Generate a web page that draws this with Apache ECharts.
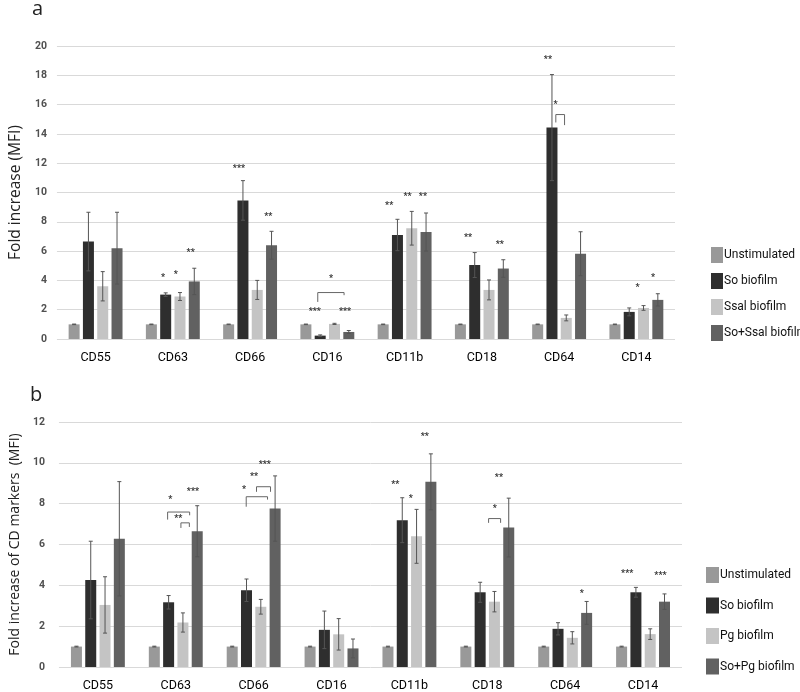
<!DOCTYPE html>
<html>
<head>
<meta charset="utf-8">
<script src="https://cdn.jsdelivr.net/npm/echarts@6/dist/echarts.min.js"></script>
<style>html,body{margin:0;padding:0;background:#fff}#c{width:800px;height:692px}</style>
</head>
<body>
<div id="c"></div>
<script>
// ---------- data ----------
var categories = ['CD55','CD63','CD66','CD16','CD11b','CD18','CD64','CD14'];
var yTicksA = [0,2,4,6,8,10,12,14,16,18,20];
var yTicksB = [0,2,4,6,8,10,12];

var seriesNamesA = ['Unstimulated','So biofilm','Ssal biofilm','So+Ssal biofilm'];
var unstimA  = [1,1,1,1,1,1,1,1];
var soA      = [6.65,3.03,9.46,0.23,7.10,5.05,14.43,1.85];
var ssalA    = [3.60,2.90,3.35,1.03,7.56,3.35,1.44,2.12];
var soSsalA  = [6.20,3.93,6.40,0.48,7.30,4.81,5.82,2.67];
var unstimErrA = [0.02,0.02,0.02,0.02,0.02,0.02,0.02,0.02];
var soErrA     = [2.00,0.12,1.35,0.05,1.07,0.85,3.62,0.27];
var ssalErrA   = [1.00,0.27,0.65,0.04,1.15,0.68,0.20,0.16];
var soSsalErrA = [2.45,0.90,0.95,0.10,1.30,0.60,1.50,0.42];

var seriesNamesB = ['Unstimulated','So biofilm','Pg biofilm','So+Pg biofilm'];
var unstimB = [1,1,1,1,1,1,1,1];
var soB     = [4.26,3.17,3.76,1.82,7.19,3.66,1.87,3.66];
var pgB     = [3.04,2.18,2.95,1.60,6.40,3.20,1.43,1.61];
var soPgB   = [6.28,6.65,7.76,0.91,9.07,6.83,2.65,3.20];
var unstimErrB = [0.02,0.02,0.02,0.02,0.02,0.02,0.02,0.02];
var soErrB     = [1.90,0.33,0.55,0.92,1.10,0.49,0.30,0.24];
var pgErrB     = [1.38,0.47,0.36,0.77,1.32,0.50,0.30,0.26];
var soPgErrB   = [2.80,1.25,1.60,0.46,1.37,1.44,0.56,0.38];

// significance marks: [category index, bar position (0..3), y value]
var starPosA = [[1,0.81,4.15],[1,1.70,4.40],[1,2.75,5.87],
                [2,0.72,11.63],[2,2.77,8.32],
                [3,0.62,1.85],[3,2.74,1.85],[3,1.76,4.10],
                [4,0.42,9.10],[4,1.70,9.68],[4,2.78,9.68],
                [5,0.53,6.92],[5,2.75,6.43],
                [6,0.72,19.04],[6,1.25,15.96],
                [7,1.58,3.51],[7,2.67,4.17]];
var starTextA = ['*','*','**','***','**','***','***','*','**','**','**','**','**','**','*','*','*'];
// brackets: [category, left pos, right pos, top y, left leg y, right leg y]
var bracketA = [[3,0.83,2.67,3.17,2.53,2.99],
                [6,1.27,1.88,15.32,14.78,14.60]];

var starPosB = [[1,1.12,8.18],[1,1.68,7.25],[1,2.70,8.57],
                [2,0.83,8.67],[2,1.53,9.32],[2,2.28,9.93],
                [4,0.51,8.94],[4,1.59,8.24],[4,2.57,11.30],
                [5,2.03,7.76],[5,2.31,9.25],
                [6,2.67,3.61],
                [7,0.39,4.59],[7,2.72,4.47]];
var starTextB = ['*','**','***','*','**','***','**','*','**','*','**','*','***','***'];
var bracketB = [[1,0.93,2.47,7.59,7.22,7.43],
                [1,1.86,2.45,7.06,6.81,6.86],
                [2,0.98,2.47,8.34,7.85,8.20],
                [2,1.70,2.68,8.83,8.58,8.58],
                [5,1.59,2.43,7.27,7.06,7.06]];

// ---------- style ----------
var colors = ['#999999','#2e2e2e','#c4c4c4','#616161'];
var FONT = 'Roboto, "Liberation Sans", sans-serif';
var TITLEFONT = '"Open Sans", "Noto Sans", sans-serif';
var BARW = 11, PITCH = 14.3;

function barSeries(name, data, axisIdx, color) {
  return { type:'bar', name:name, data:data, xAxisIndex:axisIdx, yAxisIndex:axisIdx,
    barWidth:BARW, barGap:((PITCH-BARW)/BARW*100).toFixed(1)+'%', barCategoryGap:'30%',
    itemStyle:{color:color}, z:2, animation:false };
}
function errSeries(vals, errs, pos, axisIdx) {
  var d = vals.map(function(v,i){ return [i, v, errs[i], pos]; });
  return { type:'custom', xAxisIndex:axisIdx, yAxisIndex:axisIdx, data:d, z:5, silent:true, animation:false,
    renderItem:function(params, api){
      var c = api.coord([api.value(0), 0]);
      var x = c[0] + (api.value(3)-1.5)*PITCH;
      var v = api.value(1), e = api.value(2);
      var yt = api.coord([api.value(0), v+e])[1];
      var yb = api.coord([api.value(0), v-e])[1];
      var st = {stroke:'#555', lineWidth:1};
      return {type:'group', children:[
        {type:'line', shape:{x1:x,y1:yt,x2:x,y2:yb}, style:st},
        {type:'line', shape:{x1:x-2,y1:yt,x2:x+2,y2:yt}, style:st},
        {type:'line', shape:{x1:x-2,y1:yb,x2:x+2,y2:yb}, style:st}
      ]};
    }};
}
function starSeries(pos, texts, axisIdx) {
  return { type:'custom', xAxisIndex:axisIdx, yAxisIndex:axisIdx, data:pos, z:6, silent:true, animation:false,
    renderItem:function(params, api){
      var c = api.coord([api.value(0), api.value(2)]);
      var x = c[0] + (api.value(1)-1.5)*PITCH;
      return {type:'text', style:{x:x, y:c[1], text:texts[params.dataIndex], fill:'#333',
        font:'bold 9px '+FONT, textAlign:'center', textVerticalAlign:'middle'}};
    }};
}
function bracketSeries(br, axisIdx) {
  return { type:'custom', xAxisIndex:axisIdx, yAxisIndex:axisIdx, data:br, z:6, silent:true, animation:false,
    renderItem:function(params, api){
      var c = api.coord([api.value(0), 0]);
      var xl = c[0] + (api.value(1)-1.5)*PITCH;
      var xr = c[0] + (api.value(2)-1.5)*PITCH;
      var yt = api.coord([api.value(0), api.value(3)])[1];
      var yl = api.coord([api.value(0), api.value(4)])[1];
      var yr = api.coord([api.value(0), api.value(5)])[1];
      return {type:'polyline', shape:{points:[[xl,yl],[xl,yt],[xr,yt],[xr,yr]]},
        style:{stroke:'#666', lineWidth:1, fill:null}};
    }};
}

var chart = echarts.init(document.getElementById('c'), null, {renderer:'canvas'});

function xAx(idx){
  return {type:'category', gridIndex:idx, data:categories,
    axisLine:{show:false}, axisTick:{show:false},
    axisLabel:{interval:0, color:'#000', fontSize:12.5, fontFamily:FONT, margin:12}};
}
function yAx(idx, max, name, gap, margin, nsize){
  return {type:'value', gridIndex:idx, min:0, max:max, interval:2,
    name:name, nameLocation:'middle', nameGap:gap,
    nameTextStyle:{fontSize:nsize, color:'#222', fontFamily:TITLEFONT},
    axisLine:{show:false}, axisTick:{show:false},
    axisLabel:{color:'#505050', fontSize:10.5, fontWeight:'bold', fontFamily:FONT, margin:margin},
    splitLine:{lineStyle:{color:'#d9d9d9', width:1}}};
}

var series = [];
var valsA = [unstimA, soA, ssalA, soSsalA], errsA = [unstimErrA, soErrA, ssalErrA, soSsalErrA];
var valsB = [unstimB, soB, pgB, soPgB], errsB = [unstimErrB, soErrB, pgErrB, soPgErrB];
for (var i=0;i<4;i++) series.push(barSeries(seriesNamesA[i], valsA[i], 0, colors[i]));
for (var i=0;i<4;i++) series.push(barSeries(seriesNamesB[i], valsB[i], 1, colors[i]));
for (var i=0;i<4;i++) series.push(errSeries(valsA[i], errsA[i], i, 0));
for (var i=0;i<4;i++) series.push(errSeries(valsB[i], errsB[i], i, 1));
series.push(starSeries(starPosA, starTextA, 0));
series.push(starSeries(starPosB, starTextB, 1));
series.push(bracketSeries(bracketA, 0));
series.push(bracketSeries(bracketB, 1));

chart.setOption({
  animation:false,
  backgroundColor:'#fff',
  title:[
    {text:'a', left:27, top:-6, textStyle:{fontSize:20, fontWeight:'normal', color:'#222', fontFamily:TITLEFONT}},
    {text:'b', left:25, top:380, textStyle:{fontSize:20, fontWeight:'normal', color:'#222', fontFamily:TITLEFONT}}
  ],
  legend:[
    {data:seriesNamesA, orient:'vertical', left:706, top:242, itemWidth:12, itemHeight:16, itemGap:10,
     icon:'rect', selectedMode:false, textStyle:{fontSize:12, color:'#111', fontFamily:FONT, padding:[0,0,0,-4]}},
    {data:seriesNamesB, orient:'vertical', left:701, top:562, itemWidth:13, itemHeight:16, itemGap:14.5,
     icon:'rect', selectedMode:false, textStyle:{fontSize:12, color:'#111', fontFamily:FONT, padding:[0,0,0,-4]}}
  ],
  grid:[
    {left:45, right:125, top:46, bottom:353},
    {left:52, right:118, top:422, bottom:24}
  ],
  xAxis:[xAx(0), xAx(1)],
  yAxis:[yAx(0, 20, 'Fold increase (MFI)', 31, 10, 15.5), yAx(1, 12, 'Fold increase of CD markers  (MFI)', 35, 14, 14)],
  series:series
});
</script>
</body>
</html>
